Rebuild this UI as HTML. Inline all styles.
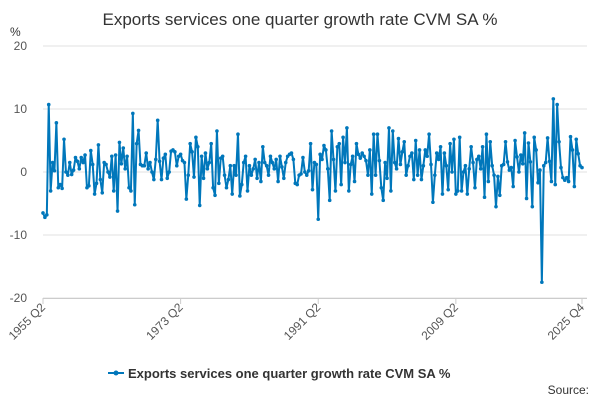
<!DOCTYPE html>
<html><head><meta charset="utf-8"><style>
body{margin:0;background:#fff;}
svg{display:block;font-family:"Liberation Sans",sans-serif;}
</style></head><body>
<svg id="chart" width="600" height="400">
<text x="300" y="25" text-anchor="middle" font-size="17" fill="#333">Exports services one quarter growth rate CVM SA %</text>
<text x="10" y="36" font-size="12" fill="#333">%</text>
<g id="grid"></g><g id="xaxis"></g><g id="series"></g>
<g>
<line x1="108" y1="373" x2="124" y2="373" stroke="#0077bb" stroke-width="2"/>
<circle cx="116" cy="373" r="2.5" fill="#0077bb"/>
<text x="128" y="378" font-size="13" font-weight="bold" fill="#333">Exports services one quarter growth rate CVM SA %</text>
</g>
<text x="589" y="394" text-anchor="end" font-size="12" fill="#333">Source:</text>
</svg>
<script>
const yTicks=[20,10,0,-10,-20];
const xTickLabels=["1955 Q2","1973 Q2","1991 Q2","2009 Q2","2025 Q4"];
const values=[
-6.5,-7.2,-6.8,10.7,-3,1.5,0.2,7.8,-2.5,-2,-2.6,5.2,0,-0.5,1.5,-0.4,0.3,2.3,1.7,0.5,
2.3,1.5,2.7,-2.5,-2.2,3.4,1.2,-3.5,-1.8,4.3,-1.2,-3.3,1.5,1.2,0,-0.8,2.5,-3,2.7,-6.2,
4.7,1.3,3.8,0.5,2.5,-2.5,-3,
9.3,-5.2,4.5,6.6,1.2,1,1,3,0.5,1.5,0,-1.2,2,8.2,1.7,-1.2,2.2,2.8,-1,0,3.3,3.5,3.2,
1,2.5,2.8,1.8,1.5,-4.3,-0.5,4.5,3.2,-0.8,5.5,4,-5.3,2.5,-1,3,0.5,1.5,4.5,-2.5,-3.7,6.5,-1.8,2.2,
2.5,-0.5,-2.5,-1.2,1,-3.5,
1,-0.5,6,-3.8,-2,1.5,2.5,-3,1,-0.5,0.5,2,-1,1.5,-1.5,4,1.5,1,-0.5,2.5,1.5,0.5,2,-1.5,
2.5,0.8,-1,1.5,2.5,2.8,3,2,-1.8,-2,-0.5,-0.3,2.3,0,-0.5,0.2,4.5,-2.8,1.5,1.2,
-7.5,2.8,2,4.2,3.5,0.5,-4.5,6.5,2,-3,4,4.5,-2,5.5,1.5,7,-3,1.2,2.5,-1.5,
4.5,2.8,2.2,3,2.5,1.8,-0.5,3.5,-3.5,6,-0.5,6,1.8,-2.5,-4.5,1.5,-1,7,-3,6.5,
1.5,0.5,5.3,1.2,3.2,4.8,-0.5,1,2.5,3,-1.2,5,-0.5,3.5,-1.2,
1,3.5,2.5,6,1.2,-4.8,-0.5,3,2,4,-3.5,3,1,-2.8,4.5,0,5.2,-3.5,-3,5.5,-3,0,1,-3.5,
0.5,4,1.5,-2.5,2,2.5,0.5,4,-4,6,-1.5,4.8,1,-0.5,-5.5,
-0.7,-3.7,1,1.2,4.8,1.6,0.3,0.7,-2.3,5,2.4,0,2.7,1.3,6.2,-4.2,4.6,1.6,-5.5,5.5,3.5,-1.7,0.3,
-17.5,1,1.5,5.4,1.7,-1.5,11.6,-2,10.7,4.8,0.7,-0.9,-1.3,-0.9,-1.5,5.6,3.5,-2.3,5.2,2.9,1,0.7
];
const categories=[];
for(let i=0;i<values.length;i++){const q=1+i;const y=1955+Math.floor(q/4);categories.push(y+" Q"+(q%4+1));}
const X0=43,X1=582,Y0=172,PU=6.3;
const xs=i=>X0+(X1-X0)*i/(values.length-1);
const ys=v=>Y0-v*PU;
const NS="http://www.w3.org/2000/svg";
function mk(t,a,p){const e=document.createElementNS(NS,t);for(const k in a)e.setAttribute(k,a[k]);p.appendChild(e);return e;}
const grid=document.getElementById('grid');
yTicks.forEach(v=>{
 const l=mk('line',{x1:X0,x2:X1+5,y1:ys(v),y2:ys(v),stroke:'#e0e0e0','stroke-width':1},grid);
 
 
 const t=mk('text',{x:27,y:ys(v)+4,'text-anchor':'end','font-size':12,fill:'#555'},grid);
 t.textContent=v;
 
 
});
const xa=document.getElementById('xaxis');
const ax=mk('line',{x1:X0,x2:X1+5,y1:298.5,y2:298.5,stroke:'#ccc'},xa);


xTickLabels.forEach(lb=>{
 const i=categories.indexOf(lb);const x=xs(i);
 const tk=mk('line',{x1:x,x2:x,y1:298,y2:304,stroke:'#ccc'},xa);
 
 
 const t=mk('text',{x:x+3,y:308,'text-anchor':'end','font-size':12,fill:'#555',transform:`rotate(-45 ${x+3} 308)`},xa);
 t.textContent=lb;
 
 
});
const s=document.getElementById('series');
const p=mk('polyline',{points:values.map((v,i)=>xs(i)+','+ys(v)).join(' '),fill:'none',stroke:'#0077bb','stroke-width':2,'stroke-linejoin':'round'},s);


values.forEach((v,i)=>{
 const c=mk('circle',{cx:xs(i),cy:ys(v),r:1.8,fill:'#0077bb'},s);
 
 
});
</script>
</body></html>
